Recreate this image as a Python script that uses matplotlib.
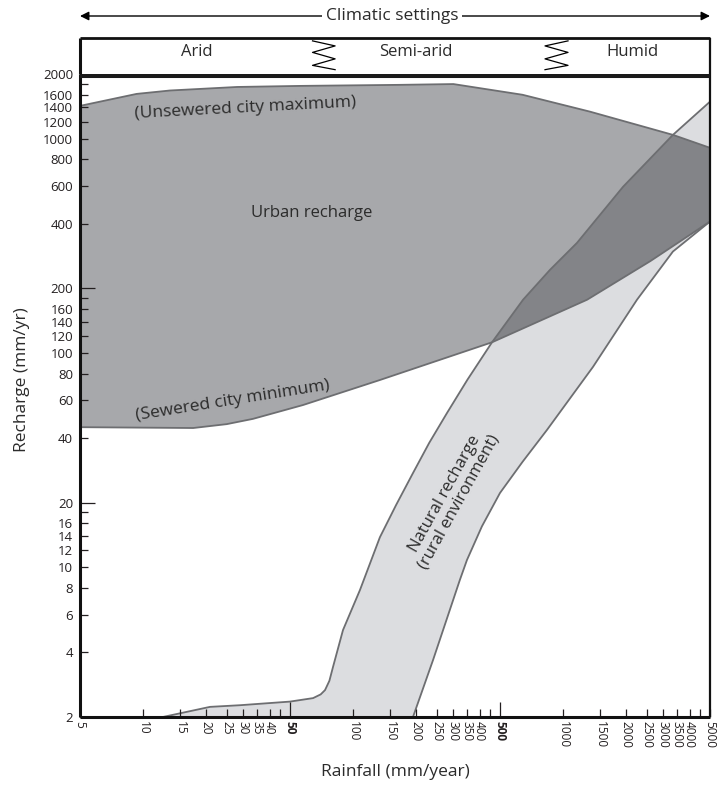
import matplotlib
matplotlib.use('Agg')
import matplotlib.pyplot as plt
from matplotlib.patches import Polygon, FancyArrowPatch
from matplotlib.ticker import FixedLocator, NullLocator, FixedFormatter

plt.rcParams['font.family'] = ['Open Sans', 'DejaVu Sans']

# ---------------- data ----------------
urban_max_x = [5, 9.3, 13.4, 28, 56, 167, 300, 640, 1340, 3330, 5000]
urban_max_y = [1420, 1615, 1675, 1740, 1760, 1780, 1795, 1600, 1335, 1040, 905]

urban_min_x = [5, 17.3, 25, 33.3, 57.7, 134, 458, 1300, 2600, 5000]
urban_min_y = [45, 44.6, 46.5, 49.2, 57.1, 74.7, 112, 177, 268, 410]

nat_left_x = [12.4, 20.8, 28.9, 50, 64.4, 70, 73.4, 77, 80.1, 89.4, 107.7, 134,
              160, 192.6, 230, 279.6, 350, 458, 644, 865, 1163, 1926, 3330, 5000]
nat_left_y = [2, 2.23, 2.27, 2.36, 2.45, 2.55, 2.67, 2.95, 3.42, 5.09, 7.83, 13.8,
              19.5, 27.5, 38, 52.4, 75, 112, 177, 244, 326, 595, 1040, 1486]

nat_right_x = [192.6, 240, 322, 348, 410, 500, 640, 837, 1386, 2246, 3330, 5000]
nat_right_y = [2, 3.69, 8.72, 10.8, 15.5, 22.2, 31, 43.7, 86, 177, 297, 410]

x_ticks = [5, 10, 15, 20, 25, 30, 35, 40, 45, 50, 100, 150, 200, 250, 300, 350,
           400, 450, 500, 1000, 1500, 2000, 2500, 3000, 3500, 4000, 4500, 5000]
x_labels = ['5', '10', '15', '20', '25', '30', '35', '40', '', '50', '100', '150',
            '200', '250', '300', '350', '400', '', '500', '1000', '1500', '2000',
            '2500', '3000', '3500', '4000', '', '5000']
y_ticks = [2, 4, 6, 8, 10, 12, 14, 16, 18, 20, 40, 60, 80, 100, 120, 140, 160,
           180, 200, 400, 600, 800, 1000, 1200, 1400, 1600, 1800, 2000]
y_labels = ['2', '4', '6', '8', '10', '12', '14', '16', '', '20', '40', '60',
            '80', '100', '120', '140', '160', '', '200', '400', '600', '800',
            '1000', '1200', '1400', '1600', '', '2000']

climates = ['Arid', 'Semi-arid', 'Humid']
climate_x = [18, 199, 2130]

# ---------------- styles ----------------
c_urban = '#a7a8ab'
c_nat = '#dcdde0'
c_overlap = '#838488'
c_edge = '#6d6e71'
c_text = '#2b2b2b'

fig = plt.figure(figsize=(7.23, 7.86), dpi=100)
W, H = 723, 786
ax = fig.add_axes([80 / W, 1 - 717 / H, 630 / W, 643 / H])
ax.set_xscale('log')
ax.set_yscale('log')
ax.set_xlim(5, 5000)
ax.set_ylim(2, 2000)

urban_pts = list(zip(urban_max_x, urban_max_y)) + list(zip(urban_min_x[::-1], urban_min_y[::-1]))
nat_pts = list(zip(nat_left_x, nat_left_y)) + list(zip(nat_right_x[::-1], nat_right_y[::-1]))

urban = Polygon(urban_pts, closed=True, facecolor=c_urban, edgecolor='none', zorder=1)
nat = Polygon(nat_pts, closed=True, facecolor=c_nat, edgecolor='none', zorder=1)
ax.add_patch(urban)
ax.add_patch(nat)
over = Polygon(nat_pts, closed=True, facecolor=c_overlap, edgecolor='none', zorder=1.2)
ax.add_patch(over)
over.set_clip_path(urban)

for xs, ys in [(urban_max_x, urban_max_y), (urban_min_x, urban_min_y),
               (nat_left_x, nat_left_y), (nat_right_x, nat_right_y)]:
    ax.plot(xs, ys, color=c_edge, lw=1.3, zorder=1.5, solid_joinstyle='round')

# ticks
ax.xaxis.set_major_locator(FixedLocator(x_ticks))
ax.xaxis.set_major_formatter(FixedFormatter(x_labels))
ax.xaxis.set_minor_locator(NullLocator())
ax.yaxis.set_major_locator(FixedLocator(y_ticks))
ax.yaxis.set_major_formatter(FixedFormatter(y_labels))
ax.yaxis.set_minor_locator(NullLocator())
ax.tick_params(axis='x', direction='in', length=6, width=0.9, pad=3,
               labelsize=8.5, labelrotation=270, colors='#231f20')
ax.tick_params(axis='y', direction='in', length=6, width=0.9, pad=5,
               labelsize=9.5, colors='#231f20')
for t, v in zip(ax.xaxis.get_major_ticks(), x_ticks):
    if v in (50, 500):
        t.tick1line.set_markersize(11)
        t.label1.set_fontweight('bold')
for t, v in zip(ax.yaxis.get_major_ticks(), y_ticks):
    if v in (20, 200):
        t.tick1line.set_markersize(11)

for s in ax.spines.values():
    s.set_color('#111111')
    s.set_capstyle('butt')
ax.spines['left'].set_linewidth(2.2)
ax.spines['bottom'].set_linewidth(2.2)
ax.spines['right'].set_linewidth(1.6)
ax.spines['top'].set_linewidth(5.8)
ax.spines['top'].set_color('#1a1a1a')

# in-chart texts
ax.text(63.6, 450, 'Urban recharge', fontsize=12, color=c_text, ha='center', va='center')
ax.text(30.5, 1390, '(Unsewered city maximum)', fontsize=12.5, color=c_text,
        ha='center', va='center', rotation=3)
ax.text(26.8, 60, '(Sewered city minimum)', fontsize=12.5, color=c_text,
        ha='center', va='center', rotation=9)
ax.text(295, 21, 'Natural recharge\n(rural environment)', fontsize=12, color=c_text,
        ha='center', va='center', rotation=61, linespacing=1.0)

# top climate panel
top = fig.add_axes([80 / W, 1 - 74 / H, 630 / W, 36 / H])
top.set_xscale('log')
top.set_xlim(5, 5000)
top.set_ylim(0, 1)
top.set_xticks([])
top.set_yticks([])
top.xaxis.set_minor_locator(NullLocator())
top.spines['bottom'].set_visible(False)
top.spines['top'].set_linewidth(2.0)
top.spines['left'].set_linewidth(2.2)
top.spines['right'].set_linewidth(1.6)
for s in top.spines.values():
    s.set_color('#111111')
    s.set_capstyle('butt')
for name, xv in zip(climates, climate_x):
    top.text(xv, 0.6, name, fontsize=12, color=c_text, ha='center', va='center')
# zigzag separators
zz_y = [0.92, 0.78, 0.6, 0.42, 0.24, 0.12]
top.plot([64, 82, 64, 82, 64, 82], zz_y, color='black', lw=0.9)
top.plot([1054, 819, 1054, 819, 1054, 819], zz_y, color='black', lw=0.9)

# climatic settings arrow
fig.patches.append(FancyArrowPatch(
    (80 / W, 1 - 16 / H), (710 / W, 1 - 16 / H), transform=fig.transFigure,
    arrowstyle='<|-|>', mutation_scale=13, color='black', lw=1.0,
    shrinkA=0, shrinkB=0))
fig.text(392 / W, 1 - 16 / H, 'Climatic settings', fontsize=12.5, color=c_text,
         ha='center', va='center',
         bbox=dict(facecolor='white', edgecolor='none', pad=3))

fig.text(395 / W, 1 - 772 / H, 'Rainfall (mm/year)', fontsize=12.5, color=c_text,
         ha='center', va='center')
fig.text(22 / W, 1 - 380 / H, 'Recharge (mm/yr)', fontsize=12.5, color=c_text,
         ha='center', va='center', rotation=90)

fig.savefig('out.png', dpi=100)
